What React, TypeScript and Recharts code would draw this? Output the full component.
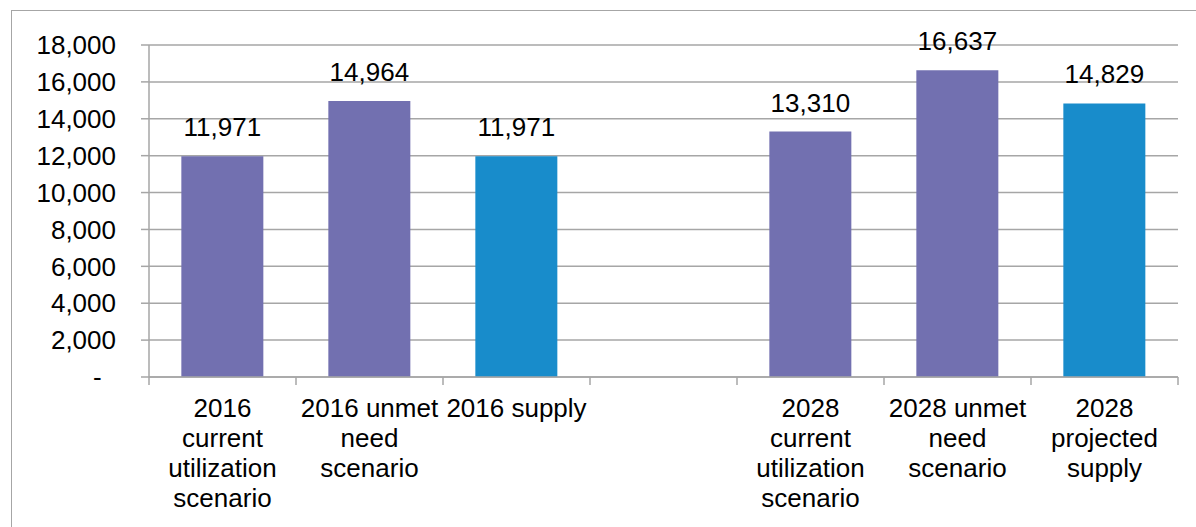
import React from "react";
import { Bar, BarChart, CartesianGrid, Cell, LabelList, XAxis, YAxis } from "recharts";

// category labels, already broken into the lines they wrap to
const categoryLines: string[][] = [
  ["2016", "current", "utilization", "scenario"],
  ["2016 unmet", "need", "scenario"],
  ["2016 supply"],
  [],
  ["2028", "current", "utilization", "scenario"],
  ["2028 unmet", "need", "scenario"],
  ["2028", "projected", "supply"],
];
const values: (number | null)[] = [11971, 14964, 11971, null, 13310, 16637, 14829];
const kinds: (string | null)[] = ["scenario", "scenario", "supply", null, "scenario", "scenario", "supply"];
const yTicks = [0, 2000, 4000, 6000, 8000, 10000, 12000, 14000, 16000, 18000];

const COLORS: Record<string, string> = { scenario: "#7270B0", supply: "#188CCB" };
const GRID = "#A6A6A6";
const FONT = '"Liberation Sans", Arial, sans-serif';
const FONT_SIZE = 26;

const data = values.map((v, i) => ({ id: `c${i}`, value: v, kind: kinds[i], lines: categoryLines[i] }));

function CategoryTick(props: any) {
  const { x, y, payload, index, width, visibleTicksCount } = props;
  const half = payload?.offset ?? width / visibleTicksCount / 2;
  const lines = categoryLines[index] ?? [];
  return (
    <g>
      <line x1={x - half} x2={x - half} y1={y - 8} y2={y} stroke={GRID} strokeWidth={1.5} />
      {index === visibleTicksCount - 1 && (
        <line x1={x + half} x2={x + half} y1={y - 8} y2={y} stroke={GRID} strokeWidth={1.5} />
      )}
      <text x={x} y={y + 32} textAnchor="middle" fill="#000" fontSize={FONT_SIZE} fontFamily={FONT}>
        {lines.map((l, i) => (
          <tspan key={i} x={x} dy={i === 0 ? 0 : 30}>
            {l}
          </tspan>
        ))}
      </text>
    </g>
  );
}

export default function App() {
  return (
    <div style={{ position: "absolute", left: 0, top: 0, width: 1196, height: 527, background: "#fff" }}>
      <div
        style={{
          position: "absolute",
          left: 11,
          top: 10,
          width: 1196,
          height: 527,
          borderLeft: `1.5px solid ${GRID}`,
          borderTop: `1.5px solid ${GRID}`,
        }}
      />
      <div style={{ position: "absolute", left: 0, top: 0 }}>
        <BarChart
          width={1196}
          height={527}
          data={data}
          margin={{ top: 45, right: 18, left: 0, bottom: 0 }}
          barCategoryGap="22%"
        >
          <CartesianGrid stroke={GRID} strokeWidth={1.5} vertical={false} />
          <XAxis
            dataKey="id"
            height={150}
            interval={0}
            tickLine={false}
            tickSize={8}
            tickMargin={0}
            axisLine={{ stroke: GRID, strokeWidth: 1.5 }}
            tick={<CategoryTick />}
          />
          <YAxis
            width={149}
            domain={[0, 18000]}
            ticks={yTicks}
            interval={0}
            tickSize={8}
            tickMargin={25}
            tickLine={{ stroke: GRID, strokeWidth: 1.5 }}
            axisLine={{ stroke: GRID, strokeWidth: 1.5 }}
            tick={{ fill: "#000", fontSize: FONT_SIZE, fontFamily: FONT }}
            tickFormatter={(v: number) => (v === 0 ? "-\u00a0\u00a0" : v.toLocaleString("en-US"))}
          />
          <Bar dataKey="value" isAnimationActive={false}>
            {data.map((d) => (
              <Cell key={d.id} fill={d.kind ? COLORS[d.kind] : "none"} />
            ))}
            <LabelList
              dataKey="value"
              position="top"
              offset={20}
              fill="#000"
              fontSize={FONT_SIZE}
              fontFamily={FONT}
              formatter={(v: any) => (v == null ? "" : Number(v).toLocaleString("en-US"))}
            />
          </Bar>
        </BarChart>
      </div>
    </div>
  );
}
